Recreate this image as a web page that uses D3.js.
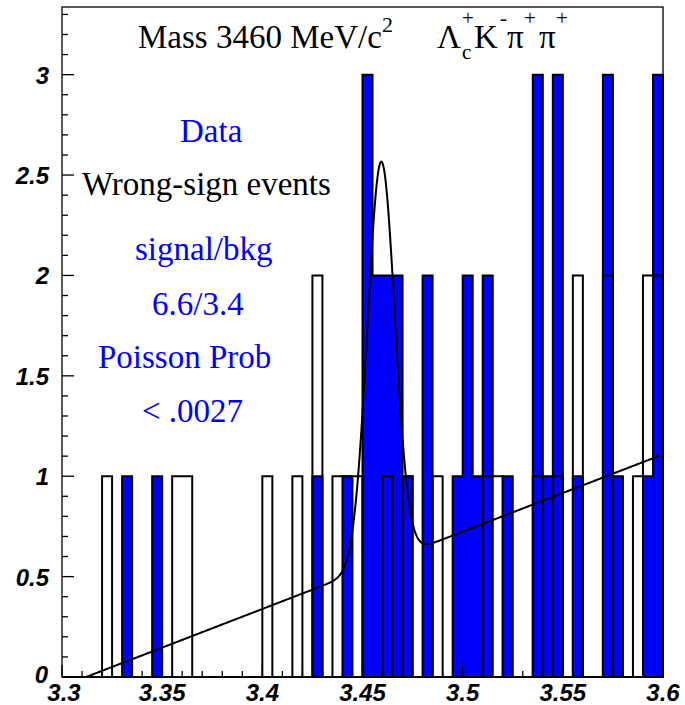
<!DOCTYPE html>
<html>
<head>
<meta charset="utf-8">
<script src="https://cdn.jsdelivr.net/npm/d3@7/dist/d3.min.js"></script>
<style>
  html, body { margin: 0; padding: 0; background: #ffffff; }
  svg { display: block; }
</style>
</head>
<body>
<script>
// ---------------- data ----------------
const xRange = [3.3, 3.6];
const binWidth = 0.005;
// 60 bins, 3.300 .. 3.600
const dataCounts = [
  0,0,0,0,0,0,1,0,0,1,
  0,0,0,0,0,0,0,0,0,0,
  0,0,0,0,0,1,0,0,1,0,
  3,2,2,2,1,0,2,0,0,1,
  2,1,2,0,1,0,0,3,1,3,
  0,1,0,0,3,1,0,0,1,3
];
const wrongSignCounts = [
  0,0,0,0,1,0,0,0,0,0,
  0,1,1,0,0,0,0,0,0,0,
  1,0,0,1,0,2,0,1,1,1,
  0,0,1,0,1,0,0,1,0,0,
  0,0,1,1,0,0,0,1,0,1,
  0,2,0,0,2,0,0,1,2,2
];
// fit: linear background + gaussian  [bkg slope, bkg zero-crossing, gaus amplitude, mean, sigma]
const fitParams = [3.85, 3.312, 2.0, 3.4593, 0.0068];
const fitRange = [3.312, 3.598];
const xTickLabels = ["3.3", "3.35", "3.4", "3.45", "3.5", "3.55", "3.6"];
const yTickLabels = ["0", "0.5", "1", "1.5", "2", "2.5", "3"];
const yMax = 3.337;

// ---------------- layout ----------------
const W = 685, H = 705;
const frame = { left: 62, right: 663, top: 7, bottom: 677 };

const svg = d3.select("body").append("svg")
  .attr("width", W).attr("height", H)
  .attr("viewBox", `0 0 ${W} ${H}`);
svg.append("rect").attr("width", W).attr("height", H).attr("fill", "#ffffff");

const x = d3.scaleLinear().domain(xRange).range([frame.left, frame.right]);
const y = d3.scaleLinear().domain([0, yMax]).range([frame.bottom, frame.top]);

function stepPoints(counts) {
  const pts = [[xRange[0], 0]];
  counts.forEach((c, k) => {
    const x0 = xRange[0] + k * binWidth;
    pts.push([x0, c]);
    pts.push([x0 + binWidth, c]);
  });
  pts.push([xRange[0] + counts.length * binWidth, 0]);
  return pts;
}
const line = d3.line().x(d => x(d[0])).y(d => y(d[1]));

const plot = svg.append("g");
plot.append("path")
  .attr("d", line(stepPoints(dataCounts)) + "Z")
  .attr("fill", "#0000ff")
  .attr("stroke", "#000000")
  .attr("stroke-width", 2)
  .attr("stroke-linejoin", "miter");
plot.append("path")
  .attr("d", line(stepPoints(wrongSignCounts)))
  .attr("fill", "none")
  .attr("stroke", "#000000")
  .attr("stroke-width", 2)
  .attr("stroke-linejoin", "miter");

// fit curve
const [slope, zero, amp, mean, sigma] = fitParams;
const fitFn = v => slope * (v - zero) + amp * Math.exp(-0.5 * Math.pow((v - mean) / sigma, 2));
const nPts = 800;
const fitPts = d3.range(nPts + 1).map(i => {
  const v = fitRange[0] + (fitRange[1] - fitRange[0]) * i / nPts;
  return [v, fitFn(v)];
});
plot.append("path")
  .attr("d", line(fitPts))
  .attr("fill", "none")
  .attr("stroke", "#000000")
  .attr("stroke-width", 2);

// ---------------- frame & axes ----------------
const axisG = svg.append("g").attr("stroke", "#000").attr("stroke-width", 1.3);
axisG.append("rect")
  .attr("x", frame.left).attr("y", frame.top)
  .attr("width", frame.right - frame.left).attr("height", frame.bottom - frame.top)
  .attr("fill", "none");

// y ticks (inside, pointing right)
d3.range(0, 34).map(i => i * 0.1).forEach(v => {
  if (v > yMax) return;
  const major = Math.abs(v * 2 - Math.round(v * 2)) < 1e-6;
  axisG.append("line")
    .attr("x1", frame.left).attr("x2", frame.left + (major ? 12 : 6))
    .attr("y1", y(v)).attr("y2", y(v));
});
// x ticks (inside, pointing up)
d3.range(0, 31).map(i => 3.3 + i * 0.01).forEach((v, i) => {
  const major = i % 5 === 0;
  axisG.append("line")
    .attr("x1", x(v)).attr("x2", x(v))
    .attr("y1", frame.bottom).attr("y2", frame.bottom - (major ? 12 : 6));
});

const axisFont = "'Liberation Sans', Arial, sans-serif";
yTickLabels.forEach((t, i) => {
  svg.append("text")
    .attr("x", i === 0 ? 48 : 49).attr("y", y(i * 0.5) + (i === 0 ? 6 : 9))
    .attr("text-anchor", "end")
    .attr("font-family", axisFont)
    .attr("font-weight", "bold").attr("font-style", "italic")
    .attr("font-size", 24)
    .text(t);
});
xTickLabels.forEach((t, i) => {
  svg.append("text")
    .attr("x", x(3.3 + i * 0.05) + (i === 0 ? 2 : 0)).attr("y", 701)
    .attr("text-anchor", "middle")
    .attr("font-family", axisFont)
    .attr("font-weight", "bold").attr("font-style", "italic")
    .attr("font-size", 24)
    .text(t);
});

// ---------------- texts ----------------
const serif = "'Liberation Serif', 'Times New Roman', serif";
const title = svg.append("text")
  .attr("font-family", serif).attr("font-size", 33).attr("fill", "#000");
title.append("tspan").attr("x", 138).attr("y", 48).text("Mass 3460 MeV/c");
title.append("tspan").attr("x", 382).attr("y", 32).attr("font-size", 22).text("2");

const decay = svg.append("text")
  .attr("font-family", serif).attr("font-size", 33).attr("fill", "#000");
decay.append("tspan").attr("x", 437).attr("y", 48).text("Λ");
decay.append("tspan").attr("x", 462).attr("y", 59).attr("font-size", 21).text("c");
decay.append("tspan").attr("x", 462).attr("y", 25).attr("font-size", 21).text("+");
decay.append("tspan").attr("x", 474).attr("y", 48).text("K");
decay.append("tspan").attr("x", 500).attr("y", 25).attr("font-size", 21).text("-");
decay.append("tspan").attr("x", 507).attr("y", 48).text("π");
decay.append("tspan").attr("x", 524).attr("y", 25).attr("font-size", 21).text("+");
decay.append("tspan").attr("x", 539).attr("y", 48).text("π");
decay.append("tspan").attr("x", 556).attr("y", 25).attr("font-size", 21).text("+");

const notes = [
  { t: "Data", x: 180, y: 142, c: "#0000ff" },
  { t: "Wrong-sign events", x: 82, y: 195, c: "#000000" },
  { t: "signal/bkg", x: 135, y: 260, c: "#0000ff" },
  { t: "6.6/3.4", x: 152, y: 315, c: "#0000ff" },
  { t: "Poisson Prob", x: 98, y: 368, c: "#0000ff" },
  { t: "< .0027", x: 142, y: 422, c: "#0000ff" }
];
notes.forEach(n => {
  svg.append("text")
    .attr("x", n.x).attr("y", n.y)
    .attr("font-family", serif).attr("font-size", 33)
    .attr("fill", n.c)
    .text(n.t);
});
</script>
</body>
</html>
